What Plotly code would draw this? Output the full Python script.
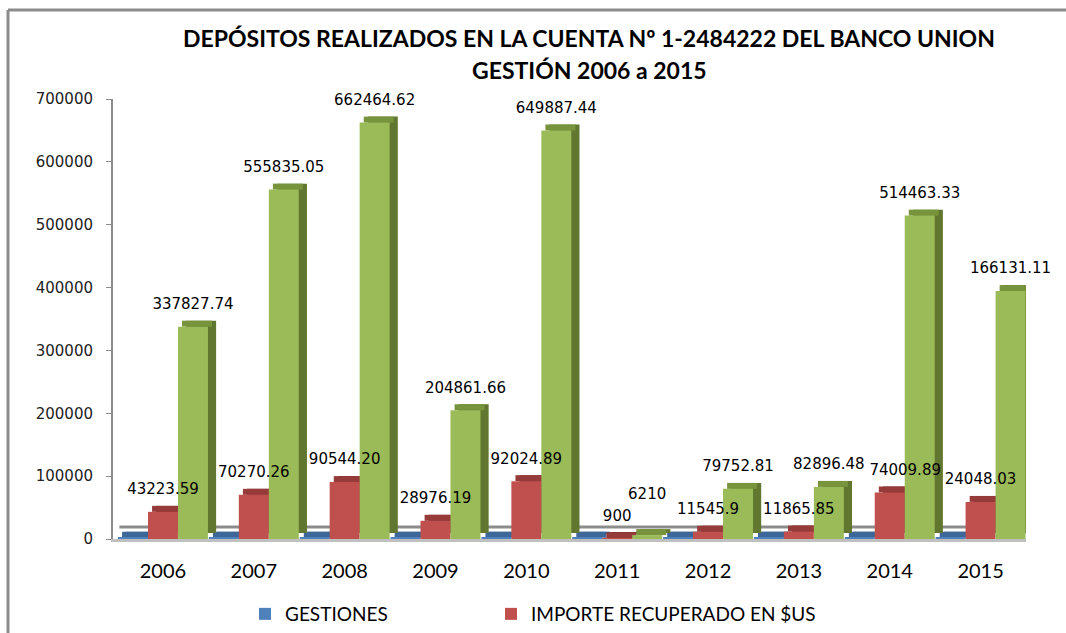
import plotly.graph_objects as go

years = ["2006", "2007", "2008", "2009", "2010", "2011", "2012", "2013", "2014", "2015"]
gestiones = [2006, 2007, 2008, 2009, 2010, 2011, 2012, 2013, 2014, 2015]
importe_us = [43223.59, 70270.26, 90544.20, 28976.19, 92024.89, 900, 11545.9, 11865.85, 74009.89, 59000]
importe_bs = [337827.74, 555835.05, 662464.62, 204861.66, 649887.44, 6210, 79752.81, 82896.48, 514463.33, 394500]
labels_us = ["43223.59", "70270.26", "90544.20", "28976.19", "92024.89", "900", "11545.9", "11865.85", "74009.89", "24048.03"]
labels_bs = ["337827.74", "555835.05", "662464.62", "204861.66", "649887.44", "6210", "79752.81", "82896.48", "514463.33", "166131.11"]
y_ticks = [0, 100000, 200000, 300000, 400000, 500000, 600000, 700000]

# label placement tweaks (style only): shift in category units / pixels-equivalent data units
label_dx_us = [0, 0, 0, 0, 0, 0, 0, 0, 0.17, 0]
label_dy_us = [0, 0, 0, 0, 0, 0, 0, 0, 0, 0]
label_dx_bs = [0, 0, 0, 0, 0, 0, 0, 0, 0, 0]
label_dy_bs = [0, 0, 0, 0, 0, 30000, 0, 0, 0, 0]

W = 0.33      # bar width (category units)
DX = 0.09     # 3D depth, horizontal
DY = 9500     # 3D depth, vertical (data units)
LABEL_GAP = 34000

# name, values, center offset, front, top, side, labels, legend, label dx, label dy
series = [
    ("GESTIONES", gestiones, -W, "#4F81BD", "#3D6699", "#2F5079", None, "legend", None, None),
    ("IMPORTE RECUPERADO EN $US", importe_us, 0.0, "#C0504D", "#963B39", "#7E302E", labels_us, "legend2",
     label_dx_us, label_dy_us),
    ("IMPORTE EN Bs", importe_bs, W, "#9BBB59", "#77933C", "#61772F", labels_bs, None,
     label_dx_bs, label_dy_bs),
]

xs = list(range(len(years)))
fig = go.Figure()

for name, vals, center, front, top, side, labels, leg, ldx, ldy in series:
    fig.add_trace(go.Bar(
        x=xs, y=vals, base=[DY] * len(vals), width=W, offset=center - W / 2 + DX,
        marker=dict(color=side, line=dict(width=0)), showlegend=False, hoverinfo="skip"))
    fig.add_trace(go.Bar(
        x=xs, y=[DY] * len(vals), base=vals, width=W, offset=center - W / 2 + DX / 2,
        marker=dict(color=top, line=dict(width=0)), showlegend=False, hoverinfo="skip"))
    fig.add_trace(go.Bar(
        x=xs, y=vals, width=W, offset=center - W / 2, name=name,
        marker=dict(color=front, line=dict(width=0)),
        showlegend=leg is not None, legend=leg if leg else "legend"))

for name, vals, center, front, top, side, labels, leg, ldx, ldy in series:
    if labels is None:
        continue
    fig.add_trace(go.Scatter(
        x=[i + center + d for i, d in zip(xs, ldx)],
        y=[v + LABEL_GAP + d for v, d in zip(vals, ldy)],
        mode="text", text=labels, textposition="middle center",
        textfont=dict(family="DejaVu Sans", size=15, color="#000000"),
        showlegend=False, hoverinfo="skip", cliponaxis=False))

legend_font = dict(family="Lato", size=19, color="#000000")
fig.update_layout(
    width=1066, height=633,
    margin=dict(l=113, r=40, t=99, b=94, autoexpand=False),
    paper_bgcolor="white", plot_bgcolor="white",
    barmode="overlay",
    showlegend=True,
    legend=dict(orientation="h", x=0.1446, y=-0.1705, xanchor="left", yanchor="middle",
                font=legend_font, bgcolor="rgba(0,0,0,0)"),
    legend2=dict(orientation="h", x=0.414, y=-0.1705, xanchor="left", yanchor="middle",
                 font=legend_font, bgcolor="rgba(0,0,0,0)"),
    annotations=[
        dict(text="<b>DEPÓSITOS REALIZADOS EN LA CUENTA Nº 1-2484222 DEL BANCO UNION</b>",
             xref="paper", yref="paper", x=0.5214, y=1.1386, showarrow=False,
             xanchor="center", yanchor="middle",
             font=dict(family="Lato", size=23, color="#000000")),
        dict(text="<b>GESTIÓN 2006 a 2015</b>",
             xref="paper", yref="paper", x=0.5214, y=1.0659, showarrow=False,
             xanchor="center", yanchor="middle",
             font=dict(family="Lato", size=23, color="#000000")),
    ],
    shapes=[
        dict(type="line", xref="paper", yref="paper", x0=-0.115, x1=-0.115, y0=1.2023, y1=-0.25,
             line=dict(color="#8c8c8c", width=3)),
        dict(type="line", xref="paper", yref="paper", x0=-0.115, x1=1.06, y0=1.2023, y1=1.2023,
             line=dict(color="#8c8c8c", width=3)),
        dict(type="line", xref="x", yref="y", x0=-0.48, x1=9.6, y0=2 * DY, y1=2 * DY,
             line=dict(color="#8c8c8c", width=3), layer="below"),
    ],
)

fig.update_xaxes(
    range=[-0.55, 9.5], tickmode="array", tickvals=xs, ticktext=years,
    showline=True, linecolor="#c0c0c0", linewidth=3, ticks="", showgrid=False,
    zeroline=False, ticklabelstandoff=12,
    tickfont=dict(family="Lato", size=20, color="#000000"))
fig.update_yaxes(
    range=[0, 700000], tickmode="array", tickvals=y_ticks, ticktext=[str(t) for t in y_ticks],
    showline=True, linecolor="#8c8c8c", linewidth=2, ticks="outside", ticklen=5,
    tickcolor="#8c8c8c", showgrid=False, zeroline=False, ticklabelstandoff=10,
    tickfont=dict(family="DejaVu Sans", size=15, color="#222222"))

fig.write_html("out.html")
